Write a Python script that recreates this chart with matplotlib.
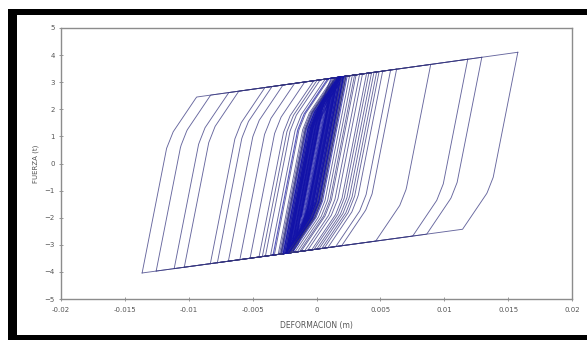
import matplotlib
matplotlib.use("Agg")
import matplotlib.pyplot as plt
from matplotlib.patches import Rectangle
import numpy as np

# puntos de inversion de la deformacion (m)
core_start = [
    0.0008, -0.0010, 0.0012, -0.0014, 0.0011, -0.0017, 0.0015, -0.0013,
    0.0018, -0.0020, 0.0009, -0.0016, 0.0021, -0.0023, 0.0014, -0.0019,
    0.0023, -0.0026, 0.0012, -0.0015, 0.0019, -0.0027, 0.0016, -0.0021,
    0.0024, -0.0018, 0.0010, -0.0024, 0.0020, -0.0028, 0.0013, -0.0017,
    0.0022, -0.0022, 0.0017, -0.0025, 0.0006, -0.0012, 0.0019, -0.0020,
    0.0021, -0.0024, 0.0016, -0.0019, 0.0022, -0.0026, 0.0018, -0.0021,
    0.0012, -0.0016, 0.0020, -0.0023, 0.0015, -0.0018, 0.0023, -0.0025,
]
large_cycles = [
    0.00259, -0.00275, 0.0028, -0.0029, 0.00298, -0.0033, 0.0031, -0.0036,
    0.00337, -0.00424, 0.0036, -0.0040, 0.00392, -0.0045, 0.0041, -0.0069,
    0.00431, -0.0052, 0.0045, -0.00776, 0.00471, -0.00831, 0.0049, -0.0060,
    0.00518, -0.01035, 0.00627, -0.01114, 0.00894, -0.01255, 0.01184, -0.01365,
    0.01576, -0.0030, 0.01294, -0.0028, 0.0058, -0.0034,
]
core_end = [
    0.0023, -0.0026, 0.0021, -0.0024, 0.0019, -0.0022, 0.0020, -0.0025,
    0.0018, -0.0023, 0.0016, -0.0021, 0.0015, -0.0019, 0.0012, -0.0017,
    0.0014, -0.0020, 0.0011, -0.0016, 0.0017, -0.0022, 0.0013, -0.0018,
    0.0019, -0.0021, 0.0016, -0.0024, 0.0014, -0.0017, 0.0021, -0.0023,
    0.0009, -0.0014, 0.0011, -0.0012,
]
reversal_x = core_start + large_cycles + core_end

# lineas de fluencia (envolventes)
upper_env_x = [-0.00957, 0.01584]
upper_env_y = [2.44, 4.11]
lower_env_x = [-0.01365, 0.01169]
lower_env_y = [-4.04, -2.41]

# rigideces de las ramas (t/m) y tramos de fuerza (t)
branch_k = [2400.0, 1200.0, 700.0]
branch_d = [4.6, 0.6]

xticks = [-0.02, -0.015, -0.01, -0.005, 0, 0.005, 0.01, 0.015, 0.02]
xlabels = ["-0.02", "-0.015", "-0.01", "-0.005", "0", "0.005", "0.01", "0.015", "0.02"]
yticks = [-5, -4, -3, -2, -1, 0, 1, 2, 3, 4, 5]


def env(x, ex, ey):
    m = (ey[1] - ey[0]) / (ex[1] - ex[0])
    return ey[0] + m * (x - ex[0])


# curva de la rama: desplazamiento relativo -> fuerza relativa
bx = np.cumsum([0.0, branch_d[0] / branch_k[0], branch_d[1] / branch_k[1], 0.05])
by = np.cumsum([0.0, branch_d[0], branch_d[1], 0.05 * branch_k[2]])


def branch(x0, y0, x1):
    xs = np.linspace(x0, x1, 400)
    dy = np.interp(np.abs(xs - x0), bx, by)
    if x1 > x0:
        ys = np.minimum(y0 + dy, env(xs, upper_env_x, upper_env_y))
    else:
        ys = np.maximum(y0 - dy, env(xs, lower_env_x, lower_env_y))
    return xs, ys


fig = plt.figure(figsize=(5.87, 3.4), dpi=100)
ax = fig.add_axes([61 / 587, 1 - 299 / 340, 511 / 587, 271 / 340])

x0, y0 = 0.0, 0.0
for i, xr in enumerate(reversal_x):
    xs, ys = branch(x0, y0, xr)
    if abs(xr) < 0.0025:
        ax.plot(xs, ys, color="#1212a8", lw=0.8, alpha=0.7)
    else:
        ax.plot(xs, ys, color="#34347e", lw=0.65, alpha=0.75)
    x0, y0 = xs[-1], ys[-1]

ax.set_xlim(-0.02, 0.02)
ax.set_ylim(-5, 5)
ax.set_xticks(xticks)
ax.set_xticklabels(xlabels)
ax.set_yticks(yticks)
ax.tick_params(direction="inout", length=3, width=0.6, color="#888888",
               labelsize=5, labelcolor="#555555")
ax.tick_params(axis="x", pad=4)
ax.tick_params(axis="y", pad=3)
for s in ax.spines.values():
    s.set_color("#8c8c8c")
    s.set_linewidth(1.0)

ax.set_xlabel("DEFORMACION (m)", fontsize=5.5, color="#555555", labelpad=6)
ax.set_ylabel("FUERZA (t)", fontsize=5, color="#555555", labelpad=4)

# marco negro
for (x, y, w, h) in [(8, 9, 9, 331), (8, 9, 579, 6), (8, 335, 579, 5)]:
    fig.add_artist(Rectangle((x / 587, 1 - (y + h) / 340), w / 587, h / 340,
                             transform=fig.transFigure, color="black", lw=0))

fig.savefig("out.png", dpi=100)
